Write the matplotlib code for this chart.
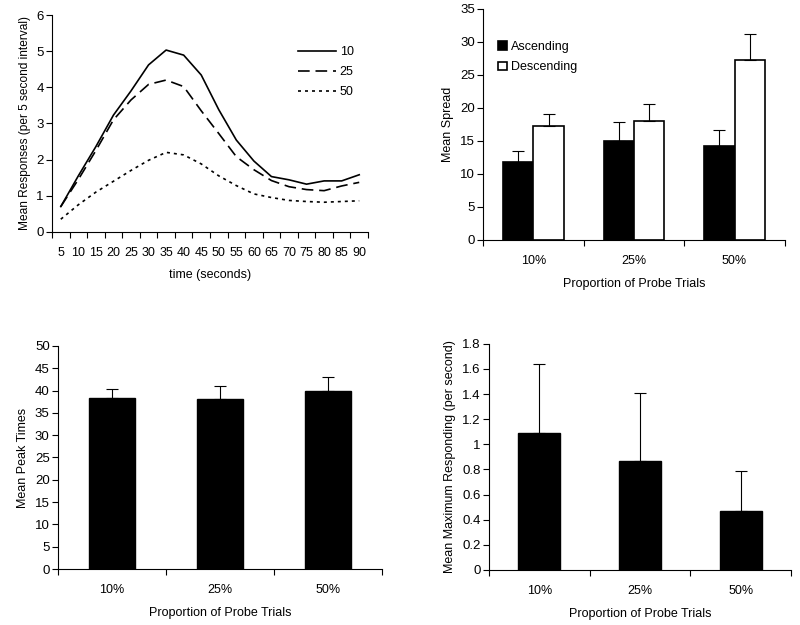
import matplotlib.pyplot as plt
import numpy as np

plt.rcParams['font.family'] = ['Liberation Sans', 'DejaVu Sans']
plt.rcParams['font.size'] = 9

# panel 1: response curves
times = ['5', '10', '15', '20', '25', '30', '35', '40', '45', '50',
         '55', '60', '65', '70', '75', '80', '85', '90']
resp_10 = [0.70, 1.55, 2.36, 3.23, 3.90, 4.62, 5.03, 4.89, 4.34, 3.38,
           2.54, 1.96, 1.53, 1.44, 1.32, 1.41, 1.41, 1.58]
resp_25 = [0.70, 1.45, 2.25, 3.10, 3.65, 4.08, 4.20, 4.02, 3.35, 2.72,
           2.08, 1.72, 1.42, 1.25, 1.17, 1.14, 1.27, 1.37]
resp_50 = [0.35, 0.75, 1.10, 1.40, 1.70, 1.98, 2.20, 2.13, 1.88, 1.55,
           1.28, 1.05, 0.95, 0.87, 0.84, 0.82, 0.84, 0.86]

# panel 2: spread
probes = ['10%', '25%', '50%']
spread_asc = [11.8, 15.0, 14.3]
spread_asc_err = [1.7, 2.9, 2.4]
spread_desc = [17.3, 18.0, 27.2]
spread_desc_err = [1.7, 2.6, 4.0]

# panel 3: peak times
peak = [38.4, 38.0, 39.9]
peak_err = [2.0, 3.0, 3.1]

# panel 4: max responding
maxresp = [1.09, 0.87, 0.47]
maxresp_err = [0.55, 0.54, 0.315]


def style(ax, n):
    ax.spines['top'].set_visible(False)
    ax.spines['right'].set_visible(False)
    ax.set_xlim(-0.5, n - 0.5)
    ax.set_xticks(np.arange(n + 1) - 0.5)
    ax.set_xticklabels([])
    ax.tick_params(axis='x', which='major', length=4, direction='out')
    ax.tick_params(axis='y', length=4, direction='out', pad=2, labelsize=9.5)
    ax.tick_params(axis='x', which='minor', length=0, pad=11)


def up_err(ax, x, y, e):
    ax.errorbar(x, y, yerr=[np.zeros(len(e)), e], fmt='none', ecolor='black',
                elinewidth=0.8, capsize=4, capthick=0.8, zorder=3)


fig = plt.figure(figsize=(8, 6.25), dpi=100)

# top-left
ax1 = fig.add_axes([0.065, 0.629, 0.395, 0.347])
x = np.arange(len(times))
ax1.plot(x, resp_10, color='black', lw=1.2, label='10')
ax1.plot(x, resp_25, color='black', lw=1.2, dashes=(7, 3.5), label='25')
ax1.plot(x, resp_50, color='black', lw=1.2, dashes=(1.8, 2.4), label='50')
style(ax1, len(times))
ax1.set_xticks(x, minor=True)
ax1.set_xticklabels(times, minor=True)
ax1.set_ylim(0, 6)
ax1.set_yticks(range(7))
ax1.set_xlabel('time (seconds)', labelpad=7)
ax1.set_ylabel('Mean Responses (per 5 second interval)', labelpad=4, fontsize=8.6)
ax1.legend(loc='upper left', bbox_to_anchor=(0.78, 0.855), frameon=False,
           handlelength=3.0, labelspacing=0.62, borderpad=0, borderaxespad=0,
           handletextpad=0.3)

# top-right
ax2 = fig.add_axes([0.604, 0.616, 0.377, 0.370])
xc = np.arange(len(probes))
w = 0.3
ax2.bar(xc - w / 2, spread_asc, w, color='black', edgecolor='black', lw=1.2,
        label='Ascending')
ax2.bar(xc + w / 2, spread_desc, w, color='white', edgecolor='black', lw=1.2,
        label='Descending')
up_err(ax2, xc - w / 2, spread_asc, spread_asc_err)
up_err(ax2, xc + w / 2, spread_desc, spread_desc_err)
style(ax2, len(probes))
ax2.set_xticks(xc, minor=True)
ax2.set_xticklabels(probes, minor=True)
ax2.set_ylim(0, 35)
ax2.set_yticks(range(0, 36, 5))
ax2.set_xlabel('Proportion of Probe Trials', labelpad=8)
ax2.set_ylabel('Mean Spread', labelpad=4)
ax2.legend(loc='upper left', bbox_to_anchor=(0.05, 0.86), frameon=False,
           handlelength=0.7, handleheight=0.7, labelspacing=0.65, borderpad=0,
           borderaxespad=0, handletextpad=0.3)

# bottom-left
ax3 = fig.add_axes([0.0725, 0.0896, 0.405, 0.357])
ax3.bar(xc, peak, 0.42, color='black', edgecolor='black', lw=1)
up_err(ax3, xc, peak, peak_err)
style(ax3, len(probes))
ax3.set_xticks(xc, minor=True)
ax3.set_xticklabels(probes, minor=True)
ax3.set_ylim(0, 50)
ax3.set_yticks(range(0, 51, 5))
ax3.set_xlabel('Proportion of Probe Trials', labelpad=8)
ax3.set_ylabel('Mean Peak Times', labelpad=4)

# bottom-right
ax4 = fig.add_axes([0.611, 0.088, 0.378, 0.362])
ax4.bar(xc, maxresp, 0.42, color='black', edgecolor='black', lw=1)
up_err(ax4, xc, maxresp, maxresp_err)
style(ax4, len(probes))
ax4.set_xticks(xc, minor=True)
ax4.set_xticklabels(probes, minor=True)
ax4.set_ylim(0, 1.8)
ax4.set_yticks(np.arange(0, 1.81, 0.2))
ax4.set_yticklabels(['0', '0.2', '0.4', '0.6', '0.8', '1', '1.2', '1.4', '1.6', '1.8'])
ax4.set_xlabel('Proportion of Probe Trials', labelpad=8)
ax4.set_ylabel('Mean Maximum Responding (per second)', labelpad=4)

fig.savefig('out.png', dpi=100)
